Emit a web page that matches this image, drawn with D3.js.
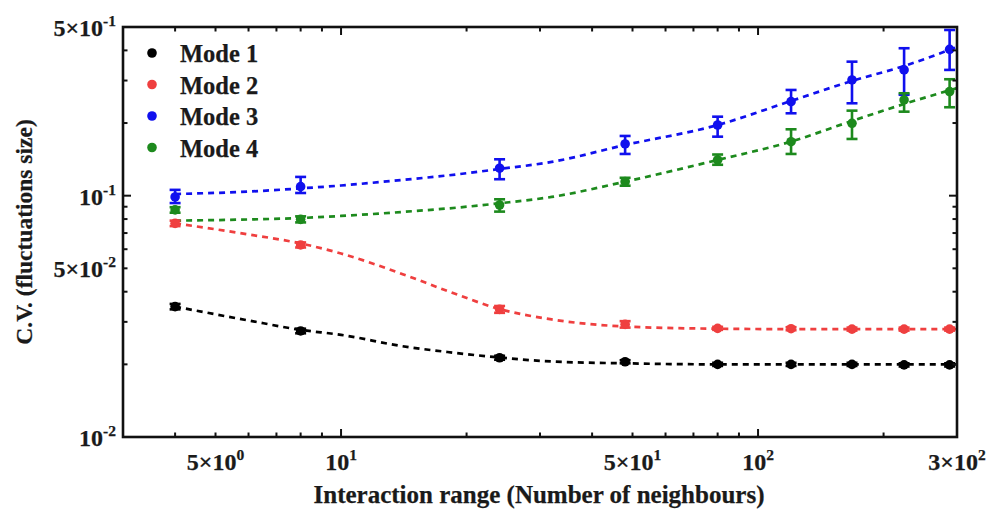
<!DOCTYPE html>
<html><head><meta charset="utf-8">
<script src="https://cdn.jsdelivr.net/npm/d3@7"></script>
<style>
html,body{margin:0;padding:0;background:#fff;}
svg text{font-family:"Liberation Serif","Times New Roman",serif;font-weight:bold;fill:#1a1a1a;stroke:#1a1a1a;stroke-width:0.25px;}
</style></head>
<body><svg id="chart" width="989" height="515"></svg>
<script>
// ---- data ----
const xValues = [4, 8, 24, 48, 80, 120, 168, 224, 288];
const seriesNames = ["Mode 1", "Mode 2", "Mode 3", "Mode 4"];
const seriesColors = ["#000000", "#ef3f3f", "#1010ee", "#1d8a1d"];
const mode1 = [0.0347, 0.0275, 0.0213, 0.0205, 0.0200, 0.0200, 0.0200, 0.0199, 0.0199];
const mode2 = [0.0768, 0.0625, 0.0338, 0.0293, 0.0282, 0.0281, 0.0280, 0.0280, 0.0280];
const mode3 = [0.0988, 0.109, 0.130, 0.1638, 0.1963, 0.2453, 0.3017, 0.332, 0.404];
const mode4 = [0.0873, 0.0798, 0.0915, 0.1143, 0.1406, 0.1674, 0.1995, 0.2493, 0.270];
const err1Lo = [0.0338, 0.0269, 0.0209, 0.0202, 0.0197, 0.0197, 0.0197, 0.0196, 0.0196];
const err1Hi = [0.0356, 0.0281, 0.0217, 0.0208, 0.0203, 0.0203, 0.0203, 0.0202, 0.0202];
const err2Lo = [0.0748, 0.0610, 0.0327, 0.0284, 0.0278, 0.0277, 0.0276, 0.0276, 0.0276];
const err2Hi = [0.0788, 0.0640, 0.0349, 0.0302, 0.0286, 0.0285, 0.0284, 0.0284, 0.0284];
const err3Lo = [0.0932, 0.1026, 0.117, 0.1489, 0.1756, 0.2195, 0.2415, 0.262, 0.332];
const err3Hi = [0.1057, 0.1196, 0.1415, 0.1768, 0.2125, 0.2742, 0.3592, 0.4083, 0.486];
const err4Lo = [0.0850, 0.0775, 0.0859, 0.1100, 0.1343, 0.1489, 0.1718, 0.2229, 0.2325];
const err4Hi = [0.0896, 0.0821, 0.0966, 0.1186, 0.1481, 0.1884, 0.2251, 0.2657, 0.3037];
// fitted dashed curves
const fitX = [4, 6, 8, 10, 14, 18, 24, 32, 48, 80, 120, 168, 224, 300];
const fit1 = [0.0347, 0.0304, 0.0278, 0.0265, 0.0238, 0.0225, 0.02135, 0.02055, 0.0202, 0.0200, 0.0200, 0.0200, 0.0200, 0.0200];
const fit2 = [0.0768, 0.0691, 0.0634, 0.0576, 0.0474, 0.0403, 0.0339, 0.0307, 0.0287, 0.0281, 0.0280, 0.0280, 0.0280, 0.0280];
const fit3 = [0.1016, 0.104, 0.1072, 0.1102, 0.1162, 0.1213, 0.129, 0.138, 0.1622, 0.1963, 0.2469, 0.2988, 0.3447, 0.4133];
const fit4 = [0.0788, 0.0797, 0.0808, 0.0824, 0.0856, 0.0885, 0.093, 0.0988, 0.1143, 0.1406, 0.1676, 0.204, 0.2399, 0.279];
const xTickVals = [5, 10, 50, 100, 300];
const xTickMant = ["5×10", "10", "5×10", "10", "3×10"];
const xTickExp = ["0", "1", "1", "2", "2"];
const yTickVals = [0.5, 0.1, 0.05, 0.01];
const yTickMant = ["5×10", "10", "5×10", "10"];
const yTickExp = ["-1", "-1", "-2", "-2"];
const xTitle = "Interaction range (Number of neighbours)";
const yTitle = "C.V. (fluctuations size)";

// ---- layout ----
const L = 123, R = 957, T = 27, B = 437;
const svg = d3.select("#chart");
const x = d3.scaleLog().domain([3, 300]).range([L, R]);
const y = d3.scaleLog().domain([0.01, 0.5]).range([B, T]);

const vals = [mode1, mode2, mode3, mode4];
const lows = [err1Lo, err2Lo, err3Lo, err4Lo];
const highs = [err1Hi, err2Hi, err3Hi, err4Hi];
const fits = [fit1, fit2, fit3, fit4];

// fitted dashed curves
const line = d3.line().x(d => x(d[0])).y(d => y(d[1])).curve(d3.curveMonotoneX);
fits.forEach((f, i) => {
  svg.append("path").datum(fitX.map((xv, j) => [xv, f[j]]))
    .attr("d", line).attr("fill", "none")
    .attr("stroke", seriesColors[i]).attr("stroke-width", 2.7)
    .attr("stroke-dasharray", "6,5");
});

// error bars + points
vals.forEach((v, i) => {
  const g = svg.append("g");
  xValues.forEach((xv, j) => {
    const cx = x(xv), y1 = y(highs[i][j]), y2 = y(lows[i][j]);
    g.append("line").attr("x1", cx).attr("x2", cx).attr("y1", y1).attr("y2", y2)
      .attr("stroke", seriesColors[i]).attr("stroke-width", 2.6);
    [y1, y2].forEach(yy => g.append("line").attr("x1", cx - 5.5).attr("x2", cx + 5.5)
      .attr("y1", yy).attr("y2", yy).attr("stroke", seriesColors[i]).attr("stroke-width", 2.6));
    g.append("circle").attr("cx", cx).attr("cy", y(v[j])).attr("r", 4.8)
      .attr("fill", seriesColors[i]);
  });
});

// frame
svg.append("rect").attr("x", L).attr("y", T).attr("width", R - L).attr("height", B - T)
  .attr("fill", "none").attr("stroke", "#111").attr("stroke-width", 2.6);

// ticks (inward)
const xMajor = [10, 100];
const xMinor = [4,5,6,7,8,9,20,30,40,50,60,70,80,90,200];
const yMajor = [0.1];
const yMinor = [0.02,0.03,0.04,0.05,0.06,0.07,0.08,0.09,0.2,0.3,0.4];
function tk(x1,y1,x2,y2,w){svg.append("line").attr("x1",x1).attr("y1",y1).attr("x2",x2).attr("y2",y2).attr("stroke","#111").attr("stroke-width",w);}
xMajor.forEach(v => { tk(x(v), B, x(v), B - 8, 2); tk(x(v), T, x(v), T + 8, 2); });
xMinor.forEach(v => { tk(x(v), B, x(v), B - 4.5, 2); tk(x(v), T, x(v), T + 4.5, 2); });
yMajor.forEach(v => { tk(L, y(v), L + 8, y(v), 2); tk(R, y(v), R - 8, y(v), 2); });
yMinor.forEach(v => { tk(L, y(v), L + 4.5, y(v), 2); tk(R, y(v), R - 4.5, y(v), 2); });

// tick labels
xTickVals.forEach((v, i) => {
  const t = svg.append("text").attr("x", x(v)).attr("y", 470).attr("text-anchor", "middle")
    .attr("font-size", 24);
  t.append("tspan").text(xTickMant[i]);
  t.append("tspan").attr("dy", -10).attr("font-size", 15.5).text(xTickExp[i]);
});
yTickVals.forEach((v, i) => {
  const t = svg.append("text").attr("x", 116).attr("y", y(v) + 9).attr("text-anchor", "end")
    .attr("font-size", 24);
  t.append("tspan").text(yTickMant[i]);
  t.append("tspan").attr("dy", -10).attr("font-size", 15.5).text(yTickExp[i]);
});

// axis titles
svg.append("text").attr("x", 539).attr("y", 503).attr("text-anchor", "middle")
  .attr("font-size", 25).text(xTitle);
svg.append("text").attr("transform", `translate(32,${(T + B) / 2}) rotate(-90)`)
  .attr("text-anchor", "middle").attr("font-size", 23.5).text(yTitle);

// legend
seriesNames.forEach((n, i) => {
  const ly = 53 + i * 31.5;
  svg.append("circle").attr("cx", 152).attr("cy", ly).attr("r", 4.8).attr("fill", seriesColors[i]);
  svg.append("text").attr("x", 180).attr("y", ly + 9).attr("font-size", 24.5).text(n);
});
</script></body></html>
